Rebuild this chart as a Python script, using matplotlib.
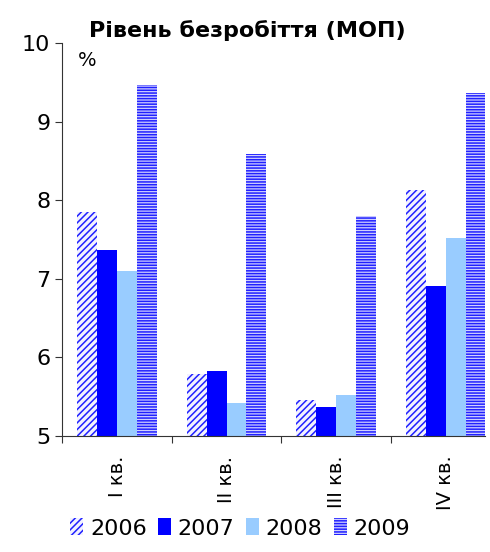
import numpy as np
import matplotlib.pyplot as plt

plt.rcParams['hatch.linewidth'] = 1.1

quarters = ["I кв.", "II кв.", "III кв.", "IV кв."]
years = ["2006", "2007", "2008", "2009"]
v2006 = [7.85, 5.79, 5.46, 8.13]
v2007 = [7.37, 5.83, 5.37, 6.91]
v2008 = [7.10, 5.42, 5.52, 7.52]
v2009 = [9.47, 8.59, 7.80, 9.37]

series = [v2006, v2007, v2008, v2009]
# (facecolor, hatch)
styles = [("#f2f2ff", "/////"), ("#0000ff", None), ("#99ccff", None), ("#d0d0ff", "------")]

fig = plt.figure(figsize=(4.9, 5.52), dpi=100)
ax = fig.add_axes([0.127, 0.21, 0.863, 0.712])

x = np.arange(len(quarters))
w = 0.182
for i, vals in enumerate(series):
    fc, h = styles[i]
    vals = np.array(vals)
    if h:
        ax.bar(x + (i - 1.5) * w, vals - 5, w, bottom=5, color=fc, hatch=h,
               edgecolor="#2020ff", linewidth=0, label=years[i])
    else:
        ax.bar(x + (i - 1.5) * w, vals - 5, w, bottom=5, color=fc,
               linewidth=0, label=years[i])

ax.set_ylim(5, 10)
ax.set_xlim(-0.5, 3.36)
ax.set_yticks([5, 6, 7, 8, 9, 10])
ax.tick_params(axis='y', labelsize=16, length=5, direction='out', colors='#333333', labelcolor='black')
ax.set_xticks([-0.5, 0.5, 1.5, 2.5], minor=False)
ax.set_xticklabels([])
ax.set_xticks(x, minor=True)
ax.set_xticklabels(quarters, minor=True, rotation=90, fontsize=14, va='top')
ax.tick_params(axis='x', which='major', length=5, direction='out', colors='#333333')
ax.tick_params(axis='x', which='minor', length=0, pad=14)
for s in ['top', 'right']:
    ax.spines[s].set_visible(False)
ax.spines['left'].set_color('#333333')
ax.spines['bottom'].set_color('#333333')

ax.text(-0.36, 9.9, "%", fontsize=14, va='top', ha='left')
fig.text(0.505, 0.945, "Рівень безробіття (МОП)", fontsize=16, fontweight='bold',
         ha='center', va='center')

fig.legend(loc='lower center', bbox_to_anchor=(0.49, -0.012), ncol=4, frameon=False,
           fontsize=16, handlelength=0.6, handleheight=0.8, handletextpad=0.3,
           columnspacing=0.5)

fig.savefig("out.png", dpi=100)
